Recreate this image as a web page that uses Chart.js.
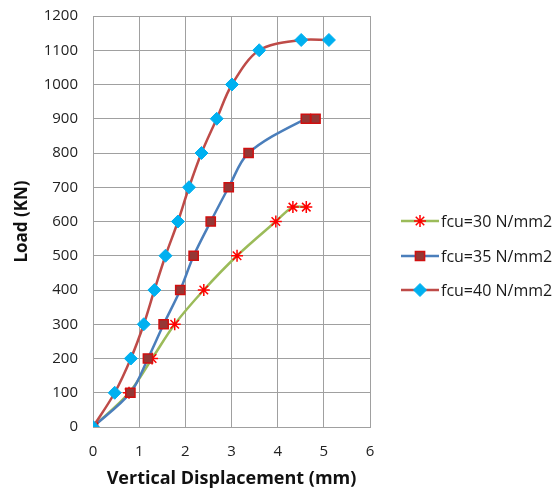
<!DOCTYPE html>
<html>
<head>
<meta charset="utf-8">
<script src="https://cdn.jsdelivr.net/npm/chart.js@4.4.0/dist/chart.umd.min.js"></script>
<style>
  html, body { margin: 0; padding: 0; background: #fff; }
  #wrap { width: 557px; height: 491px; }
</style>
</head>
<body>
<div id="wrap"><canvas id="chart"></canvas></div>
<script>
// values
const seriesNames = ["fcu=30 N/mm2", "fcu=35 N/mm2", "fcu=40 N/mm2"];

const disp30 = [0, 0.78, 1.28, 1.77, 2.40, 3.12, 3.96, 4.33, 4.62];
const load30 = [0, 100, 200, 300, 400, 500, 600, 642, 642];

const disp35 = [0, 0.81, 1.19, 1.53, 1.89, 2.18, 2.55, 2.94, 3.37, 4.61, 4.82];
const load35 = [0, 100, 200, 300, 400, 500, 600, 700, 800, 900, 900];

const disp40 = [0, 0.47, 0.82, 1.10, 1.33, 1.57, 1.84, 2.08, 2.35, 2.68, 3.01, 3.60, 4.51, 5.11];
const load40 = [0, 100, 200, 300, 400, 500, 600, 700, 800, 900, 1000, 1100, 1130, 1130];

const xMin = 0, xMax = 6, xStep = 1;
const yMin = 0, yMax = 1200, yStep = 100;

function pairs(xs, ys) {
  return xs.map((x, i) => ({ x: x, y: ys[i] }));
}

// legend rows on the right, drawn by hand (line + marker + text)
const legendRowsY = [221, 256, 290];
const sideLegend = {
  id: "sideLegend",
  afterDraw(chart) {
    const ctx = chart.ctx;
    chart.data.datasets.forEach((ds, i) => {
      const y = legendRowsY[i];
      ctx.save();
      ctx.strokeStyle = ds.borderColor;
      ctx.lineWidth = ds.borderWidth;
      ctx.beginPath();
      ctx.moveTo(401, y);
      ctx.lineTo(439, y);
      ctx.stroke();
      ctx.fillStyle = ds.pointBackgroundColor;
      ctx.strokeStyle = ds.pointBorderColor;
      ctx.lineWidth = ds.pointBorderWidth;
      Chart.helpers.drawPoint(ctx, {
        pointStyle: ds.pointStyle,
        radius: ds.pointRadius,
        borderWidth: ds.pointBorderWidth,
        rotation: 0,
      }, 420, y);
      ctx.fillStyle = "#1a1a1a";
      ctx.font = '16px "Open Sans"';
      ctx.textAlign = "left";
      ctx.textBaseline = "middle";
      ctx.fillText(seriesNames[i], 441, y + 1);
      ctx.restore();
    });
  },
};

new Chart(document.getElementById("chart"), {
  type: "scatter",
  data: {
    datasets: [
      {
        label: seriesNames[0],
        data: pairs(disp30, load30),
        showLine: true,
        borderColor: "#9bbb59",
        borderWidth: 2.5,
        tension: 0.33,
        pointStyle: "star",
        pointRadius: 6,
        pointBackgroundColor: "#ff0000",
        pointBorderColor: "#ff0000",
        pointBorderWidth: 1.5,
        order: 2,
      },
      {
        label: seriesNames[1],
        data: pairs(disp35, load35),
        showLine: true,
        borderColor: "#4a7ebb",
        borderWidth: 2.5,
        tension: 0.33,
        pointStyle: "rect",
        pointRadius: 6.5,
        pointBackgroundColor: "#953735",
        pointBorderColor: "#d01010",
        pointBorderWidth: 1.5,
        order: 1,
      },
      {
        label: seriesNames[2],
        data: pairs(disp40, load40),
        showLine: true,
        borderColor: "#be4b48",
        borderWidth: 2.5,
        tension: 0.33,
        pointStyle: "rectRot",
        pointRadius: 6.5,
        pointBackgroundColor: "#00b0f0",
        pointBorderColor: "#00b0f0",
        pointBorderWidth: 1,
        order: 0,
      },
    ],
  },
  options: {
    responsive: true,
    maintainAspectRatio: false,
    animation: false,
    layout: { padding: { left: 0, right: 187, top: 16, bottom: 0 } },
    plugins: {
      legend: { display: false },
      tooltip: { enabled: false },
    },
    scales: {
      x: {
        type: "linear",
        min: xMin,
        max: xMax,
        ticks: {
          stepSize: xStep, padding: 16, color: "#222",
          font: { family: "Open Sans", size: 15 },
          callback: (v) => String(v),
        },
        grid: { color: "#a0a0a0", lineWidth: 1, drawTicks: false },
        border: { color: "#a0a0a0" },
        title: {
          display: true,
          text: "Vertical Displacement (mm)",
          color: "#111",
          font: { family: "Open Sans", size: 18, weight: "bold" },
          padding: { top: 0, bottom: 1 },
        },
        afterFit(scale) {
          scale.height = 64;
          scale.paddingLeft = 6;
          scale.paddingRight = 6;
        },
      },
      y: {
        type: "linear",
        min: yMin,
        max: yMax,
        ticks: {
          stepSize: yStep, padding: 15, color: "#222",
          font: { family: "Open Sans", size: 15 },
          callback: (v) => String(v),
        },
        grid: { color: "#a0a0a0", lineWidth: 1, drawTicks: false },
        border: { color: "#a0a0a0" },
        title: {
          display: true,
          text: "Load (KN)",
          color: "#111",
          font: { family: "Open Sans", size: 17, weight: "bold" },
          padding: { top: 12, bottom: 0 },
        },
        afterFit(scale) {
          scale.width = 93;
          scale.paddingTop = 9;
          scale.paddingBottom = 9;
        },
      },
    },
  },
  plugins: [sideLegend],
});
</script>
</body>
</html>
